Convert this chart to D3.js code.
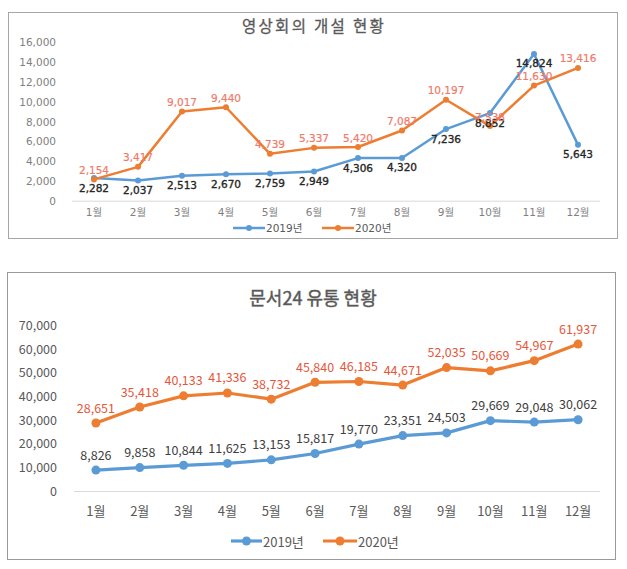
<!DOCTYPE html>
<html>
<head>
<meta charset="utf-8">
<script src="https://cdn.jsdelivr.net/npm/d3@7"></script>
<style>
  html, body { margin: 0; padding: 0; background: #ffffff; }
  svg { display: block; }
</style>
</head>
<body>
<svg id="chart" width="627" height="569"></svg>
<script>
// ---- data ----
const months = ["1월","2월","3월","4월","5월","6월","7월","8월","9월","10월","11월","12월"];
const seriesNames = ["2019년", "2020년"];

// 영상회의 개설 현황
const video2019 = [2282, 2037, 2513, 2670, 2759, 2949, 4306, 4320, 7236, 8852, 14824, 5643];
const video2020 = [2154, 3417, 9017, 9440, 4739, 5337, 5420, 7087, 10197, 7538, 11630, 13416];
const videoTicks = [0, 2000, 4000, 6000, 8000, 10000, 12000, 14000, 16000];

// 문서24 유통 현황
const doc2019 = [8826, 9858, 10844, 11625, 13153, 15817, 19770, 23351, 24503, 29669, 29048, 30062];
const doc2020 = [28651, 35418, 40133, 41336, 38732, 45840, 46185, 44671, 52035, 50669, 54967, 61937];
const docTicks = [0, 10000, 20000, 30000, 40000, 50000, 60000, 70000];

const BLUE = "#5b9bd5", ORANGE = "#ed7d31";
const fmt = d3.format(",");
const svg = d3.select("#chart");

function drawChart(cfg) {
  const g = svg.append("g");
  // frame
  g.append("rect")
    .attr("x", cfg.box[0] + 0.5).attr("y", cfg.box[1] + 0.5)
    .attr("width", cfg.box[2] - cfg.box[0]).attr("height", cfg.box[3] - cfg.box[1])
    .attr("fill", "#fff").attr("stroke", cfg.borderColor).attr("stroke-width", 1);

  // title
  g.append("text")
    .attr("x", cfg.titleX).attr("y", cfg.titleY)
    .attr("text-anchor", "middle").attr("dominant-baseline", "central")
    .attr("font-family", cfg.titleFont).attr("font-size", cfg.titleSize)
    .attr("letter-spacing", cfg.titleSpacing)
    .attr("font-weight", cfg.titleWeight)
    .attr("stroke", "#595959").attr("stroke-width", cfg.titleStroke)
    .attr("fill", "#595959").text(cfg.title);

  const x = d3.scaleBand().domain(months).range(cfg.xRange);
  const y = d3.scaleLinear().domain([0, cfg.ticks[cfg.ticks.length - 1]]).range(cfg.yRange);

  // y axis (labels only)
  const yAxis = d3.axisLeft(y).tickValues(cfg.ticks).tickFormat(fmt).tickSize(0).tickPadding(0);
  const ya = g.append("g").attr("transform", `translate(${cfg.yLabelX},0)`).call(yAxis);
  ya.select(".domain").remove();
  ya.selectAll("text").attr("font-family", cfg.tickFont).attr("font-size", cfg.tickSize)
    .attr("fill", cfg.tickColor).attr("dy", "0.35em");

  // baseline
  g.append("line")
    .attr("x1", cfg.xRange[0]).attr("x2", cfg.xRange[1])
    .attr("y1", y(0) + 0.5).attr("y2", y(0) + 0.5)
    .attr("stroke", "#d9d9d9").attr("stroke-width", 1);

  // x axis labels
  const xAxis = d3.axisBottom(x).tickSize(0).tickPadding(0);
  const xa = g.append("g").attr("transform", `translate(0,${cfg.xLabelY})`).call(xAxis);
  xa.select(".domain").remove();
  xa.selectAll("text").attr("font-family", cfg.xFont).attr("font-size", cfg.xSize)
    .attr("fill", cfg.xColor).attr("dy", "0.35em");

  const cx = (d, i) => x(months[i]) + x.bandwidth() / 2;
  const line = d3.line().x((d, i) => cx(d, i)).y(d => y(d));

  const series = [
    { vals: cfg.s1, color: BLUE, labelColor: cfg.l1Color, labelDy: cfg.l1Dy, stroke: cfg.l1Stroke },
    { vals: cfg.s2, color: ORANGE, labelColor: cfg.l2Color, labelDy: cfg.l2Dy, stroke: cfg.l2Stroke }
  ];
  series.forEach(s => {
    g.append("path").datum(s.vals).attr("d", line)
      .attr("fill", "none").attr("stroke", s.color)
      .attr("stroke-width", cfg.lineWidth).attr("stroke-linejoin", "round");
    g.selectAll(null).data(s.vals).enter().append("circle")
      .attr("cx", cx).attr("cy", d => y(d)).attr("r", cfg.markerR).attr("fill", s.color);
  });
  series.forEach(s => {
    g.selectAll(null).data(s.vals).enter().append("text")
      .attr("x", cx).attr("y", d => y(d) + s.labelDy)
      .attr("text-anchor", "middle").attr("dominant-baseline", "central")
      .attr("font-family", cfg.labelFont).attr("font-size", cfg.labelSize)
      .attr("stroke", s.labelColor).attr("stroke-width", s.stroke)
      .attr("fill", s.labelColor).text(d => fmt(d));
  });

  // legend
  cfg.legend.forEach((lg, i) => {
    const c = i === 0 ? BLUE : ORANGE;
    g.append("line").attr("x1", lg[0]).attr("x2", lg[1])
      .attr("y1", cfg.legendY).attr("y2", cfg.legendY)
      .attr("stroke", c).attr("stroke-width", cfg.lineWidth);
    g.append("circle").attr("cx", (lg[0] + lg[1]) / 2).attr("cy", cfg.legendY)
      .attr("r", cfg.markerR).attr("fill", c);
    g.append("text").attr("x", lg[1] + 1).attr("y", cfg.legendY)
      .attr("dominant-baseline", "central")
      .attr("font-family", cfg.xFont).attr("font-size", cfg.legendSize)
      .attr("fill", "#595959").text(seriesNames[i]);
  });
}

// Top chart
drawChart({
  box: [8, 12, 617, 238], borderColor: "#a6a6a6",
  title: "영상회의 개설 현황", titleX: 314, titleY: 25,
  titleFont: "'Noto Sans CJK KR', sans-serif", titleSize: 15.5, titleSpacing: 2.3, titleWeight: "normal", titleStroke: 0.3,
  xRange: [72, 600], yRange: [200.7, 42.3], ticks: videoTicks,
  yLabelX: 56, tickFont: "'DejaVu Sans', sans-serif", tickSize: 10.5, tickColor: "#7f7f7f",
  xLabelY: 212, xFont: "'DejaVu Sans', 'Noto Sans CJK KR', sans-serif", xSize: 10.5, xColor: "#7f7f7f",
  s1: video2019, s2: video2020,
  l1Color: "#262626", l1Dy: 9.5, l1Stroke: 0.35,
  l2Color: "#f07a6a", l2Dy: -9.5, l2Stroke: 0.2,
  labelFont: "'DejaVu Sans', sans-serif", labelSize: 10.5,
  lineWidth: 2.5, markerR: 3,
  legendY: 228, legend: [[233, 265], [322, 354]], legendSize: 10.5
});

// Bottom chart
drawChart({
  box: [7, 272, 615, 559], borderColor: "#999999",
  title: "문서24 유통 현황", titleX: 313, titleY: 297,
  titleFont: "'Noto Sans CJK KR', sans-serif", titleSize: 18, titleSpacing: 0, titleWeight: "normal", titleStroke: 0.4,
  xRange: [74, 600], yRange: [491, 325], ticks: docTicks,
  yLabelX: 57, tickFont: "'Noto Sans CJK KR', sans-serif", tickSize: 12.5, tickColor: "#595959",
  xLabelY: 511, xFont: "'Noto Sans CJK KR', sans-serif", xSize: 13, xColor: "#595959",
  s1: doc2019, s2: doc2020,
  l1Color: "#404040", l1Dy: -16, l1Stroke: 0,
  l2Color: "#e4573b", l2Dy: -16, l2Stroke: 0,
  labelFont: "'Noto Sans CJK KR', sans-serif", labelSize: 12.5,
  lineWidth: 3.2, markerR: 4.5,
  legendY: 541, legend: [[231, 262], [323, 357]], legendSize: 13
});
</script>
</body>
</html>
